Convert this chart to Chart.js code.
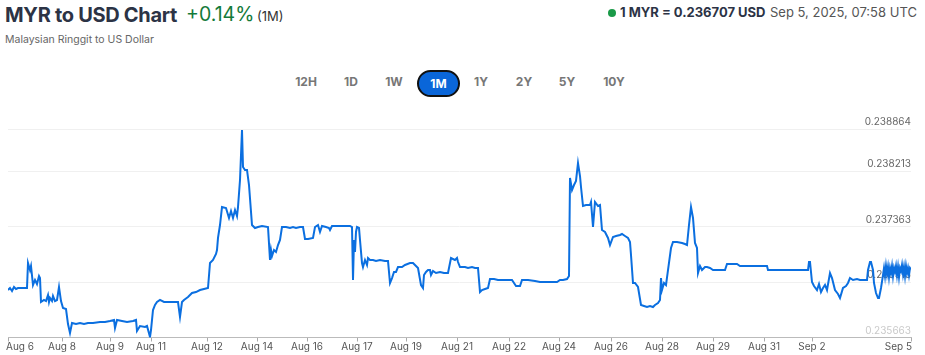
<!DOCTYPE html>
<html><head><meta charset="utf-8">
<script src="https://cdn.jsdelivr.net/npm/chart.js@4/dist/chart.umd.min.js"></script>
<style>
html,body{margin:0;padding:0;background:#fff;width:925px;height:355px;overflow:hidden;font-family:Inter,"Noto Sans",sans-serif;}
#wrap{position:relative;width:925px;height:355px;}
.abs{position:absolute;white-space:nowrap;line-height:1;}
#title{left:5px;top:5px;font-size:20px;font-weight:700;color:#2c3345;letter-spacing:-0.3px;}
#chg{left:186px;top:5px;font-size:19.5px;color:#137a3a;}
#per{left:257px;top:10px;font-size:13px;color:#333;}
#sub{left:5px;top:35px;font-size:10.5px;color:#666;}
#dot{left:608px;top:9px;width:8px;height:8px;border-radius:50%;background:#1a9a48;}
#rate{left:620px;top:6px;font-size:13px;font-weight:700;color:#2c3345;}
#date{left:770px;top:6px;font-size:13px;color:#555;}
.btn{top:76px;font-size:12px;font-weight:700;color:#777;transform:translateX(-50%);}
#sel{position:absolute;left:417px;top:70px;width:39px;height:23px;border:2px solid #111;border-radius:14px;background:#0a66d9;color:#fff;font-size:12px;font-weight:700;display:flex;align-items:center;justify-content:center;}
#cv{position:absolute;left:0;top:110px;}
</style>
</head><body>
<div id="wrap">
  <div class="abs" id="title">MYR to USD Chart</div>
  <div class="abs" id="chg">+0.14%</div>
  <div class="abs" id="per">(1M)</div>
  <div class="abs" id="sub">Malaysian Ringgit to US Dollar</div>
  <div class="abs" id="dot"></div>
  <div class="abs" id="rate">1 MYR = 0.236707 USD</div>
  <div class="abs" id="date">Sep 5, 2025, 07:58 UTC</div>
  <div class="abs btn" style="left:306px">12H</div>
  <div class="abs btn" style="left:351px">1D</div>
  <div class="abs btn" style="left:394px">1W</div>
  <div id="sel">1M</div>
  <div class="abs btn" style="left:481px">1Y</div>
  <div class="abs btn" style="left:524px">2Y</div>
  <div class="abs btn" style="left:567px">5Y</div>
  <div class="abs btn" style="left:614px">10Y</div>
  <canvas id="cv" width="925" height="245"></canvas>
</div>
<script>
// sample index along the time axis (non-uniform trading samples)
const sampleIdx = [0,2,4,6,8,10,14,19,20,22,23,25,27,29,31,32,33,36,38,40,41,42,44,45,47,49,51,53,55,58,60,62,64,68,72,76,80,85,92,97,102,106,107,109,114,119,125,128,129,132,137,139,142,143,145,147,149,152,156,162,167,170,172,174,176,180,184,188,192,196,200,202,205,208,209,210,212,214,218,221,223,225,227,229,230,232,234,235,237,239,241,244,247,250,254,260,262,263,264,266,268,270,272,274,278,282,285,288,292,
295,297,300,305,307,310,312,314,318,321,322,324,332,342,344,345,346,347,348,349,351,352,354,355,357,359,360,362,365,368,372,377,380,382,384,386,388,390,394,397,402,405,408,410,413,415,416,418,420,422,423,425,428,432,436,440,443,447,449,450,452,457,460,464,467,470,472,474,477,480,482,486,490,494,499,504,508,512,514,520,527,532,542,549,552,555,559,561,562,564,566,568,570,572,573,575,578,582,583,585,587,590,592,594,597,600,602,605,608,612,614,617,620,622,623,625,627,630,633,636,639,642,645,647,650,652,653,654,656,658,660,663,665,669,674,677,679,681,683,685,687,689,690,692,694,697,699,702,705,712,717,719,725,729,732,737,742,752,759,760,767,777,787,792,800,801,802,804,806,809,811,813,815,817,819,822,824,827,830,832,835,838,840,842,845,849,852,856,859,860,862,863,865,866,868,870,871,873,
875,876,877,878,879,880,881,882,883,884,885,886,887,888,889,890,891,892,893,894,895,896,897,898,899,900,901,902,903];
// MYR→USD rate
const rateValues = [0.236392,0.236423,0.236377,0.236438,0.236408,0.236423,0.236423,0.236423,0.236807,0.236699,0.236761,0.236469,0.236546,0.236484,0.236607,0.236576,0.236208,0.236239,0.236223,0.236315,0.236208,0.236269,0.236223,0.236300,0.236223,0.236239,0.236438,0.236223,0.236116,0.236100,0.235870,0.235732,0.235886,0.235870,0.235886,0.235870,0.235886,0.235886,0.235901,0.235901,0.235916,0.235932,0.235809,0.235932,0.235916,0.235901,0.235916,0.235932,0.235763,0.235839,0.235824,0.235839,0.235671,0.235778,0.236085,0.236162,0.236208,0.236239,0.236208,0.236208,0.236208,0.236208,0.235978,0.236208,0.236239,0.236285,0.236346,0.236361,0.236392,0.236408,0.236423,0.236807,0.236853,0.236945,0.237006,0.237191,0.237390,0.237666,0.237651,0.237498,0.237605,0.237498,0.237620,0.237528,0.237666,0.238081,0.238849,0.238281,0.238235,0.238235,0.238004,0.237390,0.237344,0.237359,0.237375,0.237359,0.236853,0.237006,0.236914,0.237006,0.236976,0.237083,0.237160,0.237359,0.237359,0.237344,0.237359,0.237344,0.237359,
0.237359,0.237175,0.237175,0.237191,0.237359,0.237390,0.237283,0.237375,0.237359,0.237344,0.237313,0.237375,0.237375,0.237375,0.237359,0.236546,0.237160,0.236976,0.237283,0.237359,0.237344,0.237160,0.236807,0.236745,0.236853,0.236776,0.236883,0.236853,0.236853,0.236837,0.236853,0.236837,0.236837,0.236500,0.236576,0.236669,0.236669,0.236745,0.236745,0.236776,0.236807,0.236807,0.236761,0.236730,0.236469,0.236423,0.236622,0.236669,0.236699,0.236699,0.236622,0.236684,0.236653,0.236669,0.236653,0.236653,0.236883,0.236853,0.236883,0.236822,0.236745,0.236745,0.236730,0.236745,0.236730,0.236730,0.236361,0.236392,0.236408,0.236423,0.236561,0.236561,0.236546,0.236546,0.236546,0.236546,0.236454,0.236454,0.236546,0.236546,0.236530,0.236515,0.236515,0.236515,0.236546,0.236546,0.236561,0.236607,0.238112,0.237927,0.238004,0.238066,0.238342,0.238142,0.237974,0.237682,0.237697,0.237697,0.237743,0.237359,0.237743,0.237682,0.237697,0.237313,0.237283,0.237191,0.237083,0.237206,0.237221,0.237237,0.237252,0.237221,0.237191,0.237129,0.236930,0.236500,0.236500,0.236438,0.236162,0.236147,0.236131,0.236147,0.236131,0.236162,0.236193,0.236239,0.236576,0.236392,0.236500,0.236469,0.236699,0.237037,0.237129,0.237129,0.237114,0.237098,0.237083,0.237390,0.237666,0.237498,0.237114,0.237037,0.236653,0.236761,0.236699,0.236745,0.236745,0.236730,0.236699,0.236699,0.236699,0.236791,0.236791,0.236791,0.236761,0.236761,0.236761,0.236761,0.236761,0.236699,0.236699,0.236699,0.236699,0.236699,0.236699,0.236822,0.236822,0.236515,0.236454,0.236392,0.236484,0.236361,0.236423,0.236469,0.236392,0.236653,0.236576,0.236392,0.236331,0.236269,0.236423,0.236454,0.236500,0.236576,0.236546,0.236561,0.236546,0.236546,0.236546,0.236699,0.236822,0.236822,0.236699,0.236500,0.236346,0.236269,0.236269,0.236423,
0.236622,0.236730,0.236607,0.236761,0.236638,0.236745,0.236592,0.236730,0.236653,0.236761,0.236607,0.236730,0.236669,0.236761,0.236622,0.236745,0.236592,0.236730,0.236684,0.236776,0.236638,0.236745,0.236607,0.236761,0.236653,0.236730,0.236622,0.236730,0.236707];
const xTickPos = [0,54,102,143,199,249,299,349,398,449,501,551,603,654,705,756,804,903];
const xTickLabels = ["Aug 6","Aug 8","Aug 9","Aug 11","Aug 12","Aug 14","Aug 16","Aug 17","Aug 19","Aug 21","Aug 22","Aug 24","Aug 26","Aug 28","Aug 29","Aug 31","Sep 2","Sep 5"];
const yTickValues = [0.235663,0.236513,0.237363,0.238213,0.238864];
const yTickLabels = ["0.235663","0.236513","0.237363","0.238213","0.238864"];

const points = sampleIdx.map((x,i)=>({x:x, y:rateValues[i]}));

const labelPlugin = {
  id:'axisLabels',
  beforeDatasetsDraw(chart){
    const {ctx, scales, chartArea} = chart;
    const x = scales.x, y = scales.y;
    ctx.save();
    ctx.font = '10px Inter, "Noto Sans", sans-serif';
    ctx.textAlign = 'right'; ctx.textBaseline = 'bottom';
    yTickValues.forEach((v,i)=>{
      const py = y.getPixelForValue(v);
      ctx.fillStyle = i===0 ? '#c9c9c9' : '#666';
      ctx.fillText(yTickLabels[i], chartArea.right, py-2);
    });
    ctx.textBaseline = 'middle'; ctx.fillStyle = '#555';
    xTickPos.forEach((v,i)=>{
      const px = x.getPixelForValue(v);
      let ax = px;
      if(i===0){ctx.textAlign='left'; ax = px-2;}
      else if(i===xTickPos.length-1){ctx.textAlign='right'; ax = px+1;}
      else ctx.textAlign='center';
      ctx.fillText(xTickLabels[i], ax, chartArea.bottom+9);
    });
    ctx.restore();
  }
};

new Chart(document.getElementById('cv'), {
  type:'line',
  data:{datasets:[{data:points, borderColor:'#0b6fe0', borderWidth:2, pointRadius:0, tension:0, fill:false}]},
  options:{
    responsive:false, animation:false, devicePixelRatio:1,
    layout:{padding:{left:8,right:14,top:19,bottom:0}},
    plugins:{legend:{display:false}, tooltip:{enabled:false}},
    scales:{
      x:{type:'linear', min:0, max:903,
        afterBuildTicks:(s)=>{s.ticks = xTickPos.map(v=>({value:v}));},
        afterFit:(s)=>{s.height = 17.5;},
        ticks:{display:false},
        grid:{drawOnChartArea:false, drawTicks:true, tickLength:4, color:'#aaa'},
        border:{display:true, color:'#bbb'}},
      y:{type:'linear', position:'right', min:0.235663, max:0.238864,
        afterBuildTicks:(s)=>{s.ticks = yTickValues.map(v=>({value:v}));},
        afterFit:(s)=>{s.width = 0;},
        ticks:{display:false},
        grid:{color:'#f0f0f0', drawTicks:false},
        border:{display:false}}
    }
  },
  plugins:[labelPlugin]
});
</script>
</body></html>
